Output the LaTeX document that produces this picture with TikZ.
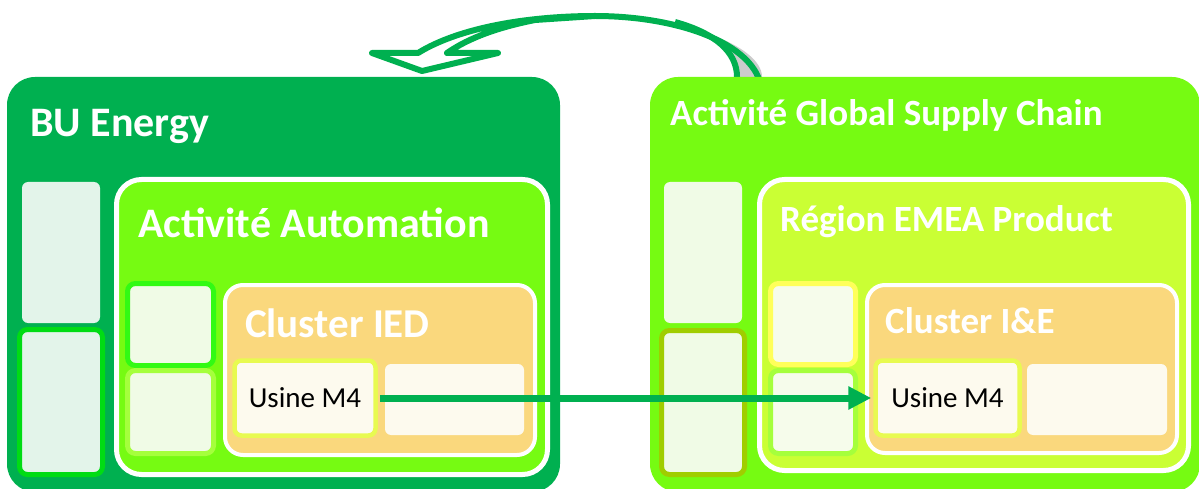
\documentclass[tikz,border=0pt]{standalone}
\usepackage{fontspec}
\setmainfont{Carlito}
\usetikzlibrary{arrows.meta}
\definecolor{buGreen}{RGB}{0,176,80}
\definecolor{actGreen}{RGB}{118,251,18}
\definecolor{regGreen}{RGB}{202,255,52}
\definecolor{clusterOrange}{RGB}{250,216,125}
\definecolor{cream}{RGB}{253,250,238}
\definecolor{mint}{RGB}{227,244,234}
\definecolor{paleGreen}{RGB}{240,251,230}
\definecolor{paleYellow}{RGB}{246,252,235}
\definecolor{bordGreen}{RGB}{0,220,20}
\definecolor{bordBright}{RGB}{50,250,20}
\definecolor{bordLight}{RGB}{165,255,60}
\definecolor{bordYellowGreen}{RGB}{232,250,80}
\definecolor{bordOlive}{RGB}{160,205,0}
\definecolor{bordYellow}{RGB}{255,255,90}
\definecolor{arrowGray}{RGB}{204,204,204}
\begin{document}
\begin{tikzpicture}[x=1pt,y=-1pt,
  panel/.style={rounded corners=28pt},
  inner/.style={draw=white, line width=5pt, rounded corners=25pt},
  cluster/.style={draw=white, line width=4pt, rounded corners=18pt, fill=clusterOrange},
  smallbox/.style={line width=5pt, rounded corners=8pt},
  plainbox/.style={rounded corners=6pt},
  title/.style={anchor=base west, inner sep=0pt, text=white, font=\bfseries},
  usine/.style={draw=bordYellowGreen, line width=4.5pt, fill=cream, rounded corners=7pt,
    minimum height=75pt, inner sep=0pt, font=\fontsize{29}{34}\selectfont},
  flow/.style={draw=buGreen, line width=7pt, -{Triangle[length=23pt,width=22pt]}}
]
\useasboundingbox (0,0) rectangle (1199,489);

% curved U-turn arrow
\begin{scope}[line width=6pt, draw=buGreen, line join=round]
  \fill[arrowGray] (595,16) .. controls (680,16) and (762,45) .. (762,77) -- (762,95) -- (737,95) -- (737,77) .. controls (737,52) and (715,33) .. (675,22) -- cycle;
  \draw (737,95) -- (737,77) .. controls (737,52) and (715,33) .. (675,22);
  \filldraw[fill=white] (372,53) -- (418,53) .. controls (460,27) and (530,16) .. (595,16) -- (535,20) .. controls (500,27) and (470,37) .. (447,53) -- (498,53) -- (422,71) -- cycle;
  \draw (595,16) .. controls (680,16) and (762,45) .. (762,95);
\end{scope}

% main panels
\fill[buGreen, panel] (7,77) rectangle (560,492);
\fill[actGreen, panel] (650,77) rectangle (1200,492);

% left panel column
\fill[mint, plainbox] (22,182) rectangle (100,323);
\filldraw[smallbox, draw=bordGreen, fill=mint] (19.5,329.5) rectangle (102.5,474.5);

% right panel column
\fill[paleGreen, plainbox] (664,182) rectangle (742,323);
\filldraw[smallbox, draw=bordOlive, fill=paleGreen] (661.5,330.5) rectangle (744.5,474.5);

% Activite Automation
\filldraw[inner, fill=actGreen] (116.5,179.5) rectangle (547.5,474.5);
\filldraw[smallbox, draw=bordBright, fill=paleGreen] (127.5,283.5) rectangle (213.5,365.5);
\filldraw[smallbox, draw=bordLight, fill=paleGreen] (127.5,370.5) rectangle (213.5,453.5);

% Region EMEA Product
\filldraw[inner, fill=regGreen] (759.5,179.5) rectangle (1188.5,470.5);
\filldraw[smallbox, draw=bordYellow, fill=paleYellow] (770.5,283.5) rectangle (855.5,364.5);
\filldraw[smallbox, draw=bordLight, fill=paleYellow] (770.5,370.5) rectangle (855.5,453.5);

% clusters
\filldraw[cluster] (225,285) rectangle (535,455);
\filldraw[cluster] (867,285) rectangle (1177,453);
\fill[cream, plainbox] (385,364) rectangle (524,435);
\fill[cream, plainbox] (1027,364) rectangle (1167,435);

\node[usine, minimum width=141pt] (u1) at (305,398) {Usine M4};
\node[usine, minimum width=144pt] (u2) at (947.5,398) {Usine M4};

% titles
\node[title, font=\fontsize{42}{50}\selectfont\bfseries] (t1) at (30,137) {BU Energy};
\node[title, font=\fontsize{42}{50}\selectfont\bfseries] (t2) at (138,237) {Activité Automation};
\node[title, font=\fontsize{37}{44}\selectfont\bfseries] (t3) at (670,126) {Activité Global Supply Chain};
\node[title, font=\fontsize{37}{44}\selectfont\bfseries] (t4) at (780,231) {Région EMEA Product};
\node[title, font=\fontsize{41}{48}\selectfont\bfseries] (t5) at (245,337) {Cluster IED};
\node[title, font=\fontsize{37}{44}\selectfont\bfseries] (t6) at (885,333) {Cluster I\&E};

% connector
\draw[flow, shorten <=2pt, shorten >=2pt] (u1.east) -- (u2.west);
\end{tikzpicture}
\end{document}
